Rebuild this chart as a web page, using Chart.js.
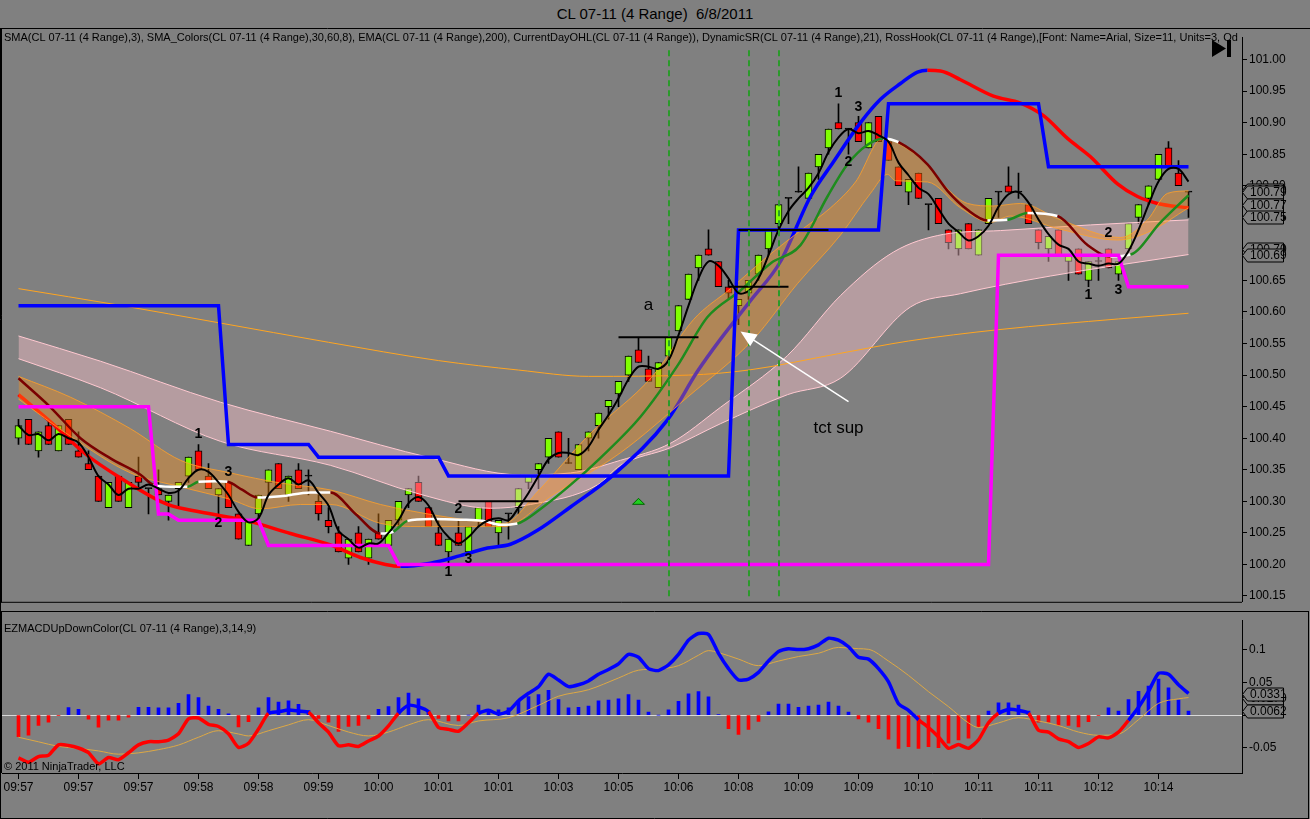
<!DOCTYPE html>
<html><head><meta charset="utf-8">
<script src="https://cdn.jsdelivr.net/npm/chart.js@4.4.1/dist/chart.umd.min.js"></script>
<style>
html,body{margin:0;padding:0;background:#808080;width:1310px;height:819px;overflow:hidden;font-family:"Liberation Sans",Arial,sans-serif}
#title{position:absolute;left:0;top:5px;width:1310px;text-align:center;font-size:15px;line-height:17px;color:#000;white-space:pre}
#c1wrap{position:absolute;left:0;top:28px;width:1310px;height:583px}
#c2wrap{position:absolute;left:0;top:611px;width:1310px;height:208px}
</style></head><body>
<div id="title">CL 07-11 (4 Range)  6/8/2011</div>
<div id="c1wrap"><canvas id="c1"></canvas></div>
<div id="c2wrap"><canvas id="c2"></canvas></div>
<script>
// ---------------- DATA ----------------
const barOpen = [
100.40,100.43,100.38,100.42,100.38,100.43,100.38,100.36,100.34,100.29,
100.34,100.29,100.34,100.32,100.32,100.30,100.32,100.34,100.38,100.34,
100.31,100.33,100.28,100.23,100.28,100.33,100.36,100.31,100.35,100.34,
100.30,100.27,100.25,100.21,100.25,100.21,100.25,100.23,100.27,100.31,
100.33,100.29,100.25,100.22,100.25,100.22,100.27,100.30,100.25,100.28,
100.29,100.33,100.35,100.37,100.41,100.36,100.35,100.40,100.42,100.45,
100.47,100.50,100.54,100.51,100.48,100.53,100.57,100.62,100.67,100.70,
100.68,100.64,100.61,100.63,100.66,100.70,100.74,100.78,100.79,100.78,
100.83,100.86,100.90,100.89,100.90,100.86,100.91,100.87,100.83,100.79,
100.82,100.77,100.78,100.73,100.70,100.74,100.69,100.74,100.79,100.80,
100.79,100.77,100.73,100.70,100.73,100.68,100.70,100.65,100.68,100.70,
100.66,100.70,100.75,100.78,100.81,100.86,100.82,100.79];
const barHigh = [
100.43,100.43,100.41,100.43,100.42,100.43,100.41,100.38,100.34,100.33,
100.34,100.33,100.37,100.32,100.35,100.31,100.33,100.37,100.39,100.36,
100.32,100.33,100.28,100.27,100.31,100.35,100.36,100.34,100.36,100.35,
100.31,100.29,100.26,100.24,100.26,100.24,100.28,100.27,100.30,100.32,
100.34,100.29,100.27,100.24,100.27,100.26,100.29,100.30,100.27,100.28,
100.32,100.34,100.36,100.40,100.41,100.40,100.39,100.41,100.44,100.46,
100.49,100.53,100.56,100.53,100.52,100.56,100.61,100.66,100.69,100.73,
100.68,100.65,100.62,100.65,100.69,100.73,100.77,100.78,100.83,100.82,
100.85,100.89,100.93,100.89,100.91,100.90,100.91,100.87,100.83,100.81,
100.82,100.77,100.78,100.73,100.73,100.74,100.73,100.78,100.79,100.83,
100.82,100.77,100.73,100.72,100.73,100.69,100.70,100.68,100.69,100.70,
100.68,100.74,100.77,100.80,100.85,100.87,100.84,100.79];
const barLow = [
100.39,100.39,100.37,100.39,100.38,100.39,100.37,100.35,100.30,100.29,
100.30,100.29,100.32,100.28,100.31,100.27,100.29,100.33,100.35,100.32,
100.28,100.29,100.24,100.23,100.27,100.31,100.32,100.30,100.32,100.31,
100.27,100.25,100.22,100.20,100.22,100.20,100.24,100.23,100.26,100.29,
100.30,100.26,100.23,100.20,100.23,100.22,100.26,100.26,100.23,100.24,
100.28,100.32,100.32,100.36,100.37,100.36,100.35,100.38,100.40,100.43,
100.45,100.49,100.52,100.49,100.48,100.52,100.57,100.62,100.65,100.69,
100.64,100.62,100.58,100.62,100.65,100.69,100.73,100.74,100.79,100.78,
100.81,100.85,100.89,100.85,100.87,100.86,100.87,100.84,100.80,100.77,
100.78,100.73,100.74,100.70,100.69,100.70,100.69,100.74,100.75,100.79,
100.78,100.74,100.70,100.68,100.69,100.65,100.66,100.64,100.65,100.67,
100.65,100.70,100.74,100.77,100.81,100.83,100.80,100.75];
const barClose = [
100.42,100.39,100.41,100.39,100.42,100.39,100.37,100.35,100.30,100.33,
100.30,100.33,100.33,100.32,100.31,100.31,100.33,100.37,100.35,100.32,
100.32,100.29,100.24,100.27,100.31,100.35,100.32,100.34,100.32,100.34,
100.28,100.26,100.22,100.24,100.22,100.24,100.24,100.27,100.30,100.32,
100.30,100.26,100.23,100.24,100.23,100.26,100.29,100.26,100.27,100.28,
100.32,100.34,100.36,100.40,100.37,100.36,100.39,100.41,100.44,100.46,
100.49,100.53,100.52,100.49,100.52,100.56,100.61,100.66,100.69,100.69,
100.64,100.63,100.62,100.65,100.69,100.73,100.77,100.78,100.79,100.82,
100.85,100.89,100.89,100.89,100.87,100.90,100.87,100.84,100.80,100.81,
100.78,100.77,100.74,100.71,100.73,100.70,100.73,100.78,100.79,100.79,
100.79,100.74,100.71,100.72,100.69,100.69,100.66,100.68,100.68,100.67,
100.68,100.74,100.77,100.80,100.85,100.83,100.80,100.79];

const xTickLabels = ['09:57','09:57','09:57','09:58','09:58','09:59','10:00','10:01','10:01','10:03',
  '10:05','10:06','10:08','10:09','10:09','10:10','10:11','10:11','10:12','10:14'];
const priceTicks = [100.15,100.20,100.25,100.30,100.35,100.40,100.45,100.50,100.55,100.60,
  100.65,100.70,100.75,100.80,100.85,100.90,100.95,101.00];
const macdTicks = [0.1, 0.05, 0, -0.05];

// indicator lines: [bar index, price]
const ema200 = [[0,100.637],[10,100.611],[20,100.583],[31,100.552],[42,100.523],[50,100.508],[57,100.498],
  [67,100.500],[73,100.508],[82,100.534],[89,100.554],[98,100.572],[110,100.589],[117,100.598]];
const pinkUpper = [[0,100.562],[8.2,100.522],[20.2,100.457],[31.2,100.411],[41.2,100.369],[50.2,100.342],[55.2,100.345],
  [60.2,100.365],[65.2,100.392],[70.2,100.449],[76.9,100.531],[82.2,100.626],[87.5,100.695],[92.5,100.723],
  [98.2,100.729],[107.2,100.738],[117,100.746]];
const pinkLower = [[0,100.526],[8.2,100.480],[20.2,100.395],[31.2,100.357],[40.2,100.311],[47.2,100.289],[51.2,100.295],
  [57.9,100.326],[60.2,100.357],[65.2,100.385],[70.2,100.423],[76.9,100.469],[82.2,100.495],[89.2,100.608],
  [94.2,100.629],[103.2,100.657],[117,100.691]];
const orangeUpper = [[0,100.498],[5.2,100.465],[11.2,100.415],[16.2,100.365],[21.2,100.345],[26.2,100.329],[31.2,100.318],
  [36.2,100.295],[39.2,100.285],[44.2,100.272],[48.5,100.265],[51.9,100.315],[56.9,100.403],[63.5,100.500],
  [67.5,100.588],[71.2,100.637],[74.9,100.688],[78.2,100.729],[81.2,100.765],[83.7,100.806],[86.5,100.877],
  [88.2,100.865],[90.9,100.834],[92.9,100.795],[94.9,100.772],[97.5,100.768],[100.2,100.772],[104.2,100.746],
  [110.2,100.718],[112.9,100.746],[114.9,100.788],[117,100.792]];
const orangeLower = [[0,100.462],[5.2,100.403],[11.2,100.345],[16.2,100.323],[21.2,100.303],[24.2,100.288],[28.2,100.295],
  [31.2,100.295],[36.2,100.265],[40.2,100.260],[48.5,100.260],[53.5,100.311],[60.2,100.377],[66.9,100.465],
  [73.5,100.557],[77.9,100.645],[82.2,100.722],[85.2,100.788],[86.9,100.818],[87.7,100.808],[90.9,100.806],
  [94.2,100.765],[97.2,100.742],[99.2,100.752],[104.2,100.731],[109.9,100.714],[112.9,100.726],[117,100.765]];
const trendMA = [[0,100.469],[3.2,100.426],[6.7,100.375],[10.2,100.337],[14.9,100.295],[18.2,100.283],[22.9,100.269],
  [27.2,100.249],[31.2,100.231],[34.2,100.211],[36.7,100.200],[38.2,100.197],[41.2,100.202],[44.2,100.214],
  [46.9,100.226],[49.2,100.232],[51.9,100.254],[55.2,100.291],[59.5,100.342],[64.9,100.429],[67.9,100.506],
  [70.2,100.557],[73.2,100.618],[76.2,100.680],[79.2,100.783],[81.5,100.838],[84.2,100.900],[86.2,100.937],
  [88.2,100.962],[89.9,100.980],[90.9,100.983],[92.2,100.982],[94.2,100.968],[97.5,100.942],[100.2,100.931],
  [102.5,100.911],[104.9,100.875],[107.2,100.846],[109.9,100.803],[111.9,100.783],[113.9,100.772],[117,100.765]];
const smaColors = [[0,100.495],[3.2,100.449],[6.2,100.400],[9.2,100.368],[12.2,100.342],[13.5,100.326],[15.2,100.323],
  [16.9,100.323],[18,100.331],[19.7,100.332],[20.9,100.331],[22.4,100.318],[23.9,100.306],[26.2,100.308],
  [29.2,100.314],[31.2,100.314],[33.7,100.280],[36.2,100.249],[37.5,100.252],[38.9,100.269],[41.2,100.272],
  [44.2,100.271],[46.5,100.269],[48.2,100.263],[49.9,100.265],[52.2,100.288],[55.2,100.326],[58.2,100.369],
  [62.2,100.434],[65.9,100.515],[68.9,100.592],[72.2,100.634],[75.2,100.677],[78.2,100.706],[80.9,100.783],
  [82.9,100.834],[84.9,100.865],[86.5,100.875],[88,100.869],[90.9,100.834],[92.9,100.792],[94.9,100.762],
  [96.9,100.745],[98.9,100.746],[100.9,100.757],[103.9,100.752],[106.9,100.706],[109.2,100.688],[111.2,100.691],
  [114.2,100.742],[117,100.785]];

// DynamicSR steps: level and first bar of each level
const srHighLevels = [100.61,100.39,100.37,100.34,100.73,100.93,100.83];
const srHighStart  = [0,21,30,43,72,87,103];
const srLowLevels  = [100.45,100.28,100.27,100.23,100.20,100.69,100.64];
const srLowStart   = [0,14,16,25,38,98,111];

// RossHook horizontal segments
const rossLevels = [100.30,100.56,100.64,100.73];
const rossFrom   = [44,60,71,72];
const rossTo     = [52,68,77,81];

const vLineBars = [65,73,76];
const swingLabels = [[18,100.406,'1'],[20,100.266,'2'],[21,100.346,'3'],
  [43,100.188,'1'],[44,100.288,'2'],[45,100.209,'3'],
  [82,100.946,'1'],[83,100.838,'2'],[84,100.925,'3'],
  [107,100.626,'1'],[109,100.725,'2'],[110,100.635,'3']];
const noteLabels = [[63,100.611,'a'],[82,100.415,'tct sup']];
const arrowFrom = [83,100.458];
const arrowTo = [72.2,100.569];
const upMarks = [[62,100.300]];
const hiddenPriceTags = [100.793, 100.70];
const priceTags = [100.79,100.77,100.75,100.69];

const macdLine = [
-0.0656,-0.0724,-0.0637,-0.0617,-0.0457,-0.0466,-0.0505,-0.0578,-0.0748,-0.0651,
-0.0685,-0.0578,-0.0457,-0.0408,-0.0408,-0.0384,-0.0287,-0.0058,-0.0044,-0.0141,
-0.0175,-0.0287,-0.0496,-0.0433,-0.0214,0.0029,0.0053,0.0078,0.0063,0.0044,
-0.0117,-0.0262,-0.0471,-0.0457,-0.0481,-0.0398,-0.0321,-0.0165,0.0029,0.0150,
0.0126,0.0053,-0.0190,-0.0219,-0.0248,-0.0117,0.0029,0.0073,0.0015,0.0058,
0.0219,0.0335,0.0437,0.0627,0.0539,0.0437,0.0466,0.0525,0.0627,0.0700,
0.0787,0.0933,0.0889,0.0714,0.0685,0.0773,0.0933,0.1152,0.1254,0.1239,
0.0948,0.0714,0.0539,0.0554,0.0656,0.0831,0.0977,0.1020,0.1006,0.1020,
0.1079,0.1181,0.1152,0.1050,0.0889,0.0860,0.0714,0.0510,0.0175,0.0073,
-0.0073,-0.0190,-0.0335,-0.0510,-0.0452,-0.0510,-0.0379,-0.0117,0.0029,0.0087,
0.0073,0.0029,-0.0233,-0.0262,-0.0364,-0.0408,-0.0496,-0.0437,-0.0335,-0.0350,
-0.0262,-0.0080,0.0120,0.0364,0.0641,0.0627,0.0466,0.0331];
const macdHist = [
-0.033,-0.031,-0.016,-0.011,-0.001,0.0117,0.009,-0.0063,-0.0184,-0.0078,
-0.0078,-0.003,0.012,0.012,0.011,0.011,0.018,0.0315,0.027,0.014,
0.009,0.002,-0.018,-0.010,0.011,0.027,0.020,0.022,0.0165,0.007,
-0.005,-0.011,-0.025,-0.0175,-0.016,-0.006,0.009,0.013,0.027,0.034,
0.025,0.007,-0.005,-0.009,-0.009,0,0.0155,0.006,0.008,0.011,
0.022,0.0285,0.0315,0.038,0.024,0.011,0.012,0.014,0.022,0.023,
0.025,0.0315,0.023,0.0045,0,0.008,0.021,0.0325,0.036,0.028,
0.001,-0.021,-0.0296,-0.022,-0.0097,0.005,0.017,0.017,0.012,0.014,
0.0155,0.020,0.014,0.0045,-0.006,-0.011,-0.021,-0.037,-0.051,-0.0485,
-0.051,-0.0485,-0.050,-0.043,-0.038,-0.0355,-0.018,0.006,0.019,0.019,
0.0155,0.006,-0.011,-0.011,-0.016,-0.016,-0.018,-0.010,-0.001,0.011,
0.006,0.024,0.0365,0.0447,0.0554,0.042,0.023,0.0062];
const macdSignal = [[0,-0.034],[2,-0.041],[4,-0.048],[6,-0.051],[8,-0.055],[10,-0.060],[12,-0.058],[14,-0.053],
  [16,-0.046],[18,-0.034],[20,-0.024],[22,-0.029],[23,-0.032],[25,-0.024],[27,-0.015],[29,-0.007],[31,-0.016],
  [33,-0.026],[35,-0.032],[37,-0.026],[39,-0.015],[41,-0.007],[44,-0.016],[46,-0.009],[49,-0.004],[52,0.015],
  [54,0.029],[57,0.039],[60,0.057],[62,0.069],[64,0.071],[66,0.076],[68,0.092],[69,0.099],[70,0.096],[72,0.086],
  [74,0.076],[76,0.083],[78,0.090],[80,0.095],[82,0.104],[84,0.102],[85,0.101],[87,0.083],[89,0.061],[91,0.036],
  [93,0.013],[95,-0.012],[96,-0.019],[98,-0.012],[100,-0.004],[102,-0.009],[104,-0.016],[106,-0.026],[108,-0.031],
  [110,-0.029],[112,-0.007],[114,0.018],[116,0.025],[117,0.027]];
const hiddenMacdTags = [0.027];
const macdTags = [0.0331, 0.0062];

const indicatorText = 'SMA(CL 07-11 (4 Range),3), SMA_Colors(CL 07-11 (4 Range),30,60,8), EMA(CL 07-11 (4 Range),200), CurrentDayOHL(CL 07-11 (4 Range)), DynamicSR(CL 07-11 (4 Range),21), RossHook(CL 07-11 (4 Range),[Font: Name=Arial, Size=11, Units=3, Od';
const macdText = 'EZMACDUpDownColor(CL 07-11 (4 Range),3,14,9)';
const copyText = '\u00A9 2011 NinjaTrader, LLC';

// ---------------- BUILD ----------------
Chart.defaults.font.family = '"Liberation Sans", Arial, sans-serif';
Chart.defaults.font.size = 12;
Chart.defaults.color = '#000';
const FONT = '"Liberation Sans", Arial, sans-serif';
const X_MIN = -1.65, X_MAX = 122.35;
const idx = barClose.map((_, i) => i);
const pts = a => a.map(v => ({x: v[0], y: v[1]}));
function stepSeries(levels, starts) {
  return idx.map(i => { let k = 0; for (let j = 0; j < starts.length; j++) if (i >= starts[j]) k = j; return {x: i, y: levels[k]}; });
}
const sma3 = idx.map(i => { const s = barClose.slice(Math.max(0, i - 2), i + 1); return {x: i, y: s.reduce((a, b) => a + b, 0) / s.length}; });
const bodyColors = idx.map(i => barClose[i] > barOpen[i] ? '#80FF00' : (barClose[i] < barOpen[i] ? '#FF0000' : '#000000'));

const lineBase = {type: 'line', pointRadius: 0, pointHoverRadius: 0, fill: false};

function drawTag(ctx, x0, y, text) {
  ctx.beginPath();
  ctx.moveTo(x0 + 0.5, y);
  ctx.lineTo(x0 + 5.5, y - 6.5);
  ctx.lineTo(x0 + 41.5, y - 6.5);
  ctx.lineTo(x0 + 41.5, y + 6.5);
  ctx.lineTo(x0 + 5.5, y + 6.5);
  ctx.closePath();
  ctx.fillStyle = '#808080'; ctx.fill();
  ctx.strokeStyle = '#000'; ctx.lineWidth = 1; ctx.stroke();
  ctx.fillStyle = '#000'; ctx.font = '12px ' + FONT;
  ctx.textAlign = 'left'; ctx.textBaseline = 'middle';
  ctx.fillText(text, x0 + 8, y + 0.5);
}

const topOverlay = {
  id: 'topOverlay',
  afterDatasetsDraw(chart) {
    const {ctx, chartArea: a} = chart;
    const x = chart.scales.x, y = chart.scales.y;
    ctx.save();
    ctx.strokeStyle = '#2A9A2A'; ctx.lineWidth = 2; ctx.setLineDash([6, 4]);
    vLineBars.forEach(b => {
      const px = Math.round(x.getPixelForValue(b));
      ctx.beginPath(); ctx.moveTo(px, a.top + 13); ctx.lineTo(px, a.bottom - 5); ctx.stroke();
    });
    ctx.setLineDash([]);
    ctx.fillStyle = '#000'; ctx.textAlign = 'center'; ctx.textBaseline = 'middle';
    ctx.font = 'bold 14px ' + FONT;
    swingLabels.forEach(l => ctx.fillText(l[2], x.getPixelForValue(l[0]), y.getPixelForValue(l[1])));
    ctx.font = '17px ' + FONT;
    noteLabels.forEach(l => ctx.fillText(l[2], x.getPixelForValue(l[0]), y.getPixelForValue(l[1])));
    const ax0 = x.getPixelForValue(arrowFrom[0]), ay0 = y.getPixelForValue(arrowFrom[1]);
    const ax1 = x.getPixelForValue(arrowTo[0]), ay1 = y.getPixelForValue(arrowTo[1]);
    const ang = Math.atan2(ay1 - ay0, ax1 - ax0);
    ctx.strokeStyle = '#FFFFFF'; ctx.lineWidth = 1.5;
    ctx.beginPath(); ctx.moveTo(ax0, ay0); ctx.lineTo(ax1 - 12 * Math.cos(ang), ay1 - 12 * Math.sin(ang)); ctx.stroke();
    ctx.fillStyle = '#FFFFFF';
    ctx.beginPath();
    ctx.moveTo(ax1, ay1);
    ctx.lineTo(ax1 - 16 * Math.cos(ang) + 7 * Math.sin(ang), ay1 - 16 * Math.sin(ang) - 7 * Math.cos(ang));
    ctx.lineTo(ax1 - 16 * Math.cos(ang) - 7 * Math.sin(ang), ay1 - 16 * Math.sin(ang) + 7 * Math.cos(ang));
    ctx.closePath(); ctx.fill();
    upMarks.forEach(m => {
      const px = x.getPixelForValue(m[0]), py = y.getPixelForValue(m[1]);
      ctx.beginPath(); ctx.moveTo(px - 6, py + 3); ctx.lineTo(px + 6, py + 3); ctx.lineTo(px, py - 3); ctx.closePath();
      ctx.fillStyle = '#20D020'; ctx.fill(); ctx.strokeStyle = '#006000'; ctx.lineWidth = 1; ctx.stroke();
    });
    ctx.save();
    ctx.beginPath(); ctx.rect(a.left, 0, a.right - a.left, 30); ctx.clip();
    ctx.fillStyle = '#000'; ctx.font = '11px ' + FONT; ctx.textAlign = 'left'; ctx.textBaseline = 'middle';
    ctx.fillText(indicatorText, 4, 10);
    ctx.restore();
    ctx.fillStyle = '#000';
    ctx.beginPath(); ctx.moveTo(1212, 12); ctx.lineTo(1212, 29); ctx.lineTo(1226, 20.5); ctx.closePath(); ctx.fill();
    ctx.fillRect(1227, 12, 4, 17);
    hiddenPriceTags.forEach(v => drawTag(ctx, a.right, Math.round(y.getPixelForValue(v)) + 0.5, v.toFixed(2)));
    priceTags.forEach(v => drawTag(ctx, a.right, Math.round(y.getPixelForValue(v)) + 0.5, v.toFixed(2)));
    ctx.restore();
  },
  afterDraw(chart) {
    const {ctx, chartArea: a} = chart;
    ctx.save(); ctx.strokeStyle = '#000'; ctx.lineWidth = 1;
    ctx.beginPath();
    ctx.moveTo(0, 0.5); ctx.lineTo(1310, 0.5);
    ctx.moveTo(0.5, 0); ctx.lineTo(0.5, chart.height);
    ctx.moveTo(1.5, 0); ctx.lineTo(1.5, a.bottom + 0.5);
    ctx.moveTo(1, a.bottom + 0.5); ctx.lineTo(a.right, a.bottom + 0.5);
    ctx.stroke(); ctx.restore();
  }
};

const datasets = [
  {type: 'bar', data: idx.map(i => ({x: i, y: [barLow[i], barHigh[i]]})), backgroundColor: '#000', borderWidth: 0,
   barThickness: 1, grouped: false, order: 100},
  {type: 'bar', data: idx.map(i => ({x: i, y: [barOpen[i], barClose[i]]})), backgroundColor: bodyColors,
   borderColor: '#000', borderWidth: 1, borderSkipped: false, minBarLength: 1, barThickness: 7, grouped: false, order: 95},
  {...lineBase, data: pts(pinkUpper), borderColor: '#FFC8D0', borderWidth: 1, cubicInterpolationMode: 'monotone',
   fill: {target: 3}, backgroundColor: 'rgba(255,195,205,0.42)', order: 90},
  {...lineBase, data: pts(pinkLower), borderColor: '#FFC8D0', borderWidth: 1, cubicInterpolationMode: 'monotone', order: 89},
  {...lineBase, data: pts(ema200), borderColor: '#FFA520', borderWidth: 1, cubicInterpolationMode: 'monotone', order: 80},
  {...lineBase, data: pts(trendMA), borderWidth: 3.5, borderColor: '#0000FF', cubicInterpolationMode: 'monotone',
   segment: {borderColor: c => c.p1.parsed.y >= c.p0.parsed.y ? '#0000FF' : '#FF0000'}, order: 70},
  {...lineBase, data: pts(orangeUpper), borderColor: 'rgba(255,160,40,0.8)', borderWidth: 1, cubicInterpolationMode: 'monotone',
   fill: {target: 7}, backgroundColor: 'rgba(255,145,20,0.38)', order: 60},
  {...lineBase, data: pts(orangeLower), borderColor: 'rgba(255,160,40,0.8)', borderWidth: 1, cubicInterpolationMode: 'monotone', order: 59},
  {...lineBase, data: pts(smaColors), borderWidth: 2.5, borderColor: '#7A0000', cubicInterpolationMode: 'monotone',
   segment: {borderColor: c => { const s = (c.p1.parsed.y - c.p0.parsed.y) / (c.p1.parsed.x - c.p0.parsed.x);
     return s > 0.0045 ? '#1E8C1E' : (s < -0.0045 ? '#7A0000' : '#FFFFFF'); }}, order: 50},
  {...lineBase, data: stepSeries(srHighLevels, srHighStart), borderColor: '#0000FF', borderWidth: 3.5, order: 40},
  {...lineBase, data: stepSeries(srLowLevels, srLowStart), borderColor: '#FF00FF', borderWidth: 3.5, order: 41},
  {...lineBase, data: sma3, borderColor: '#000', borderWidth: 2, tension: 0.35, order: 30},
];
rossLevels.forEach((lv, k) => datasets.push({...lineBase, data: [{x: rossFrom[k], y: lv}, {x: rossTo[k], y: lv}],
  borderColor: '#000', borderWidth: 2, order: 20}));

new Chart(document.getElementById('c1'), {
  type: 'line',
  data: {datasets},
  options: {
    responsive: true, maintainAspectRatio: false, animation: false, events: [],
    layout: {padding: {left: 2, top: 1, right: 0, bottom: 1}},
    plugins: {legend: {display: false}, tooltip: {enabled: false}, title: {display: false}},
    scales: {
      x: {type: 'linear', min: X_MIN, max: X_MAX, display: false, offset: false, bounds: 'ticks', grid: {offset: false}},
      y: {type: 'linear', position: 'right', min: 100.1408, max: 101.0354,
        afterBuildTicks: s => { s.ticks = priceTicks.map(v => ({value: v})); },
        afterFit: s => { s.width = 68; },
        ticks: {color: '#000', font: {size: 12}, padding: 2, autoSkip: false, callback: v => Number(v).toFixed(2)},
        grid: {display: true, drawOnChartArea: false, drawTicks: true, tickLength: 5, tickColor: '#000', color: '#000'},
        border: {display: true, color: '#000', width: 1}}
    }
  },
  plugins: [topOverlay]
});

const lowOverlay = {
  id: 'lowOverlay',
  afterDatasetsDraw(chart) {
    const {ctx, chartArea: a} = chart;
    const y = chart.scales.y;
    ctx.save();
    ctx.fillStyle = '#000'; ctx.font = '11px ' + FONT; ctx.textAlign = 'left'; ctx.textBaseline = 'middle';
    ctx.fillText(macdText, 4, 18);
    ctx.fillText(copyText, 4, 156);
    hiddenMacdTags.forEach(v => drawTag(ctx, a.right, Math.round(y.getPixelForValue(v)) + 0.5, v.toFixed(4)));
    macdTags.forEach(v => drawTag(ctx, a.right, Math.round(y.getPixelForValue(v)) + 0.5, v.toFixed(4)));
    ctx.restore();
  },
  afterDraw(chart) {
    const {ctx, chartArea: a} = chart;
    ctx.save(); ctx.strokeStyle = '#000'; ctx.lineWidth = 1;
    ctx.beginPath();
    ctx.moveTo(0, 0.5); ctx.lineTo(1309, 0.5);
    ctx.moveTo(0.5, 0); ctx.lineTo(0.5, chart.height);
    ctx.moveTo(1.5, 0); ctx.lineTo(1.5, a.bottom);
    ctx.moveTo(1308.5, 0); ctx.lineTo(1308.5, chart.height);
    ctx.moveTo(0, chart.height - 0.5); ctx.lineTo(1309, chart.height - 0.5);
    ctx.stroke(); ctx.restore();
  }
};

new Chart(document.getElementById('c2'), {
  type: 'line',
  data: {datasets: [
    {type: 'bar', data: idx.map(i => ({x: i, y: macdHist[i]})), backgroundColor: macdHist.map(v => v >= 0 ? '#0000FF' : '#FF0000'),
     borderWidth: 0, barThickness: 3, grouped: false, order: 30},
    {...lineBase, data: pts(macdSignal), borderColor: '#DDA844', borderWidth: 1, cubicInterpolationMode: 'monotone', order: 20},
    {...lineBase, data: idx.map(i => ({x: i, y: macdLine[i]})), borderWidth: 3.5, borderColor: '#0000FF', tension: 0.2,
     segment: {borderColor: c => (c.p0.parsed.y + c.p1.parsed.y) / 2 >= 0 ? '#0000FF' : '#FF0000'}, order: 10}
  ]},
  options: {
    responsive: true, maintainAspectRatio: false, animation: false, events: [],
    layout: {padding: {left: 2, top: 1, right: 0, bottom: 0}},
    plugins: {legend: {display: false}, tooltip: {enabled: false}},
    scales: {
      x: {type: 'linear', min: X_MIN, max: X_MAX, position: 'bottom', offset: false,
        afterBuildTicks: s => { s.ticks = xTickLabels.map((_, k) => ({value: k * 6})); },
        afterFit: s => { s.height = 46; s.paddingLeft = 0; s.paddingRight = 0; },
        ticks: {color: '#000', font: {size: 12}, padding: 1, autoSkip: false, maxRotation: 0, callback: (v, k) => xTickLabels[k]},
        grid: {display: true, drawOnChartArea: false, drawTicks: true, tickLength: 6, tickColor: '#000', color: '#000', offset: false},
        border: {display: true, color: '#000', width: 1}},
      y: {type: 'linear', position: 'right', min: -0.08892, max: 0.14577,
        afterBuildTicks: s => { s.ticks = macdTicks.map(v => ({value: v})); },
        afterFit: s => { s.width = 68; },
        ticks: {color: '#000', font: {size: 12}, padding: 2, autoSkip: false, callback: v => String(v)},
        grid: {display: true, drawOnChartArea: true, drawTicks: true, tickLength: 5, tickColor: '#000',
          color: c => (c.tick && c.tick.value === 0) ? '#D8D8D8' : 'rgba(0,0,0,0)'},
        border: {display: true, color: '#000', width: 1}}
    }
  },
  plugins: [lowOverlay]
});
</script>
</body></html>
